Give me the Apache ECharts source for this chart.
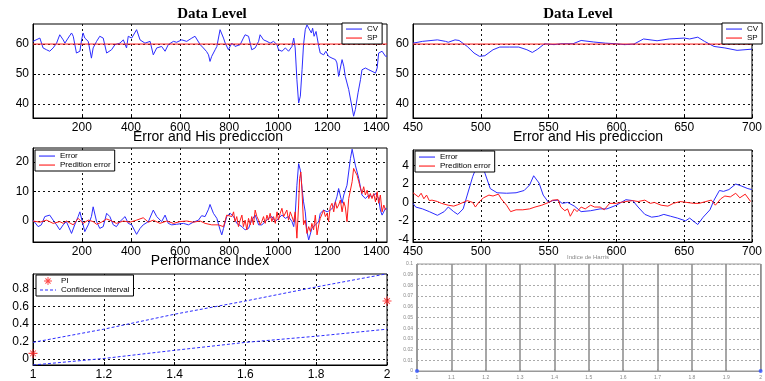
<!DOCTYPE html>
<html>
<head>
<meta charset="UTF-8">
<script src="https://cdn.jsdelivr.net/npm/echarts@6/dist/echarts.min.js"></script>
<title>Data Level</title>
<style>
  html, body { margin: 0; padding: 0; background: #fff; }
  #main { width: 765px; height: 381px; }
</style>
</head>
<body>
<div id="main"></div>
<script type="text/javascript">
// ---- top left: CV over the whole run (SP = 60)
var cvX1 = [1,29,42,56,69,83,97,110,124,131,144,158,165,178,192,199,205,212,226,239,246,260,273,280,287,301,321,335,355,369,382,389,403,423,437,457,478,491,505,525,539,552,573,586,607,627,648,661,682,695,
  708,716,722,729,743,750,763,770,777,784,797,804,811,824,831,845,858,865,879,892,906,920,926,940,954,967,981,995,1001,1015,1029,1042,1056,1063,1069,1076,1083,1090,1097,1103,1110,1117,1124,1135,1140,1146,1154,1165,1171,1185,1194,1205,1219,1233,1239,1246,1253,1260,1267,1273,1287,1301,1307,1314,1325,1335,1341,1355,1369,1382,1396,1403,1409,1423,1437,1443];
var cvY1 = [60.9,62,58.7,58.1,57.6,58.7,60.3,63.1,61.4,60.3,62,63.7,62.6,57,57.6,61.4,63.7,62,60.9,55.3,58.7,60.9,62.6,63.1,62,57,58.1,59.8,60.3,61.4,58.7,62.6,62,64.8,61.4,60.3,60.9,56.4,58.7,59.2,57.6,59.8,60.9,60.6,61.4,60.9,62,62.6,59.8,58.7,
  57.5,56.4,54.2,55.9,58.1,59.2,64.8,64.2,62,60.3,58.1,59.2,60.3,59.2,58.7,59.8,62,63.1,62.6,58.1,58.7,60.9,63.1,61.4,60.9,60.3,60.9,59.8,58.1,57.6,58.7,57.6,59.2,62,58.7,48.1,40.3,42.6,51.4,59.8,64.8,66.4,65.9,63.7,65.3,62.6,64.2,59.2,57,56.4,57.6,55.9,55.3,54.8,53.7,49.2,49.8,54.8,52.6,49.2,44.8,38.7,35.9,38.1,43.7,48.1,51.4,52,51.4,50.9,50.3,52,57,57.6,55.9,56];
var spX1 = [1, 1443];
var spY1 = [60, 60];

// ---- top right: CV between 450 and 700
var cvX2 = [450,457,468,474,476,481,484,490,495,499,503,509,514,521,528,534,538,542,547,554,559,568,574,583,592,600,606,613,620,630,639,650,654,660,665,672,680,689,700];
var cvY2 = [60.3,60.9,61.4,60.9,60.6,61.4,61.2,59.2,57,55.9,56.1,58.1,59,59,59,58.1,57.2,58.3,60.1,59.8,60.1,60.1,61.2,60.7,60.3,60.1,59.8,60,61.7,61.1,61.7,62,61.7,62.3,60.9,59.2,58.7,57.9,58.3];
var spX2 = [450, 700];
var spY2 = [60, 60];

// ---- middle left: error and predicted error
var errX1 = [1,22,35,49,69,83,97,110,124,137,158,171,185,192,205,212,226,239,246,260,273,287,301,314,328,341,355,376,389,403,423,437,450,471,491,505,525,539,552,566,586,614,634,654,675,688,
  702,716,722,736,750,763,770,777,790,804,818,831,852,865,879,892,906,920,933,947,960,974,988,1001,1015,1029,1042,1056,1063,1069,1076,1083,1090,1097,1103,1110,1117,1124,1131,1137,1151,1165,1171,1185,1199,1212,1226,1239,1246,1253,1260,1267,1280,1294,1301,1307,1314,1328,1341,1355,1369,1382,1396,1409,1416,1423,1437,1443];
var errY1 = [0.3,-1.9,-1.3,1.5,2,0.3,-1.3,-3,-1.3,-0.2,-4.2,-1.3,1.5,3.1,-1.3,-3.6,-1.3,1.5,4.8,-0.2,-2.5,-1.9,2.6,1.5,-1.3,-1.9,-0.2,1.5,-0.8,-1.3,-4.5,-2.5,-1.3,-0.2,3.7,1.5,-0.2,2,-0.8,-1.3,-1.1,-0.8,-1.3,-0.4,0.3,1.8,
  1.5,4,5.6,2.6,0.9,-3,-4.7,-2.5,1.5,2.6,1.5,-0.8,-1.9,-3,-2.5,0.3,2,-1.3,-1.3,-0.2,0.9,1.5,-0.2,0.9,2,0.9,1.5,-0.2,-1.9,2,12.1,19.4,17.2,11,6.5,3.1,-3.6,-6.4,-5.8,-2.5,-1.3,-0.2,2.6,3.7,3.1,3.7,4.8,8.2,11,10.4,6,8.8,12.1,21.1,24.3,23.9,18.9,14.4,8.8,7.6,8.8,8.2,9.3,7.6,3.7,2,4.3,4];
var predX1 = [1,29,56,83,110,124,137,165,185,192,205,226,246,260,280,301,321,341,369,396,423,450,471,491,518,546,573,600,627,654,682,
  702,729,756,777,790,797,811,818,824,831,838,845,852,858,865,872,879,886,892,899,906,913,920,926,933,940,947,954,960,967,974,981,988,995,1001,1008,1015,1022,1029,1035,1042,1049,1056,1063,1069,1076,1083,1087,1092,1097,1103,1110,1117,1124,1131,1137,1144,1151,1158,1165,1171,1178,1185,1192,1199,1205,1212,1219,1226,1233,1239,1246,1253,1260,1267,1273,1280,1287,1294,1301,1307,1314,1321,1328,1335,1341,1348,1355,1362,1369,1375,1382,1389,1396,1403,1409,1416,1423,1430,1437];
var predY1 = [0,-0.4,0.3,-0.8,-0.2,-0.8,0,-1.3,0.9,1.5,-0.8,0.3,-0.2,-1.1,-0.4,0.7,0,-0.8,0,-0.4,0.3,1.1,-0.4,0.3,-0.8,0,-0.8,-0.2,0,-0.4,0,
  -0.8,-1.3,-1.3,-1.9,2,2.6,1.5,3.1,-0.2,1.5,-1.9,0.3,2,-1.9,0.3,-3,0.9,-1.3,1.5,-1.3,3.7,1.5,0.3,-1.3,-0.2,1.5,-0.8,2,0.3,2.6,-0.2,1.5,-0.8,3.1,0.3,2.6,4.3,1.5,2,3.7,0.3,3.1,1.5,-0.2,3.1,-5.8,5.4,14.4,16.6,9.9,-1.3,0.3,-4.2,-1.9,-3.6,-0.8,-3,2,-4.7,-1.3,0.9,1.5,3.7,1.5,2.6,-0.2,4.8,6,3.1,6.5,4.3,5.4,7.1,3.1,6.5,4.8,-0.2,7.6,7.6,13.3,17.8,16.6,15.5,13.3,11,9.3,11.6,8.8,10.4,7.6,9.3,7.6,9.3,6.5,9.9,6,8.8,3.1,5.4,3.7];

// ---- middle right: error and predicted error, 450..700
var errX2 = [450,452,457,462,468,473,476,480,483,487,490,494,498,501,503,507,512,519,526,532,536,539,543,546,550,553,557,560,564,569,574,581,588,593,600,607,612,616,621,626,631,635,640,645,651,654,660,664,669,672,676,679,683,688,692,697,700];
var errY2 = [-0.1,-0.5,-0.7,-1,-1.4,-1,-0.5,-1,-1.3,-0.7,0.8,2.8,4.3,4.6,3.2,1.5,1.05,1,1.05,1.3,1.9,2.9,2.1,0.8,0,0.2,0.25,-0.1,0,-0.4,-1,-0.9,-0.7,-0.7,-0.3,0.3,0.2,-0.5,-1.3,-1.6,-1.5,-1.3,-1.5,-1.7,-2,-1.7,-2.4,-1.6,-0.8,0.25,1.3,1.2,1.4,2,1.8,1.5,1.4];
var predX2 = [450,454,456,458,460,462,464,468,471,476,480,483,487,490,494,496,499,502,506,509,513,515,519,522,526,531,536,540,545,550,553,557,559,562,564,566,569,571,574,577,581,584,588,591,595,600,603,607,612,616,621,625,628,633,638,642,647,652,657,661,666,670,673,677,680,684,688,691,695,699];
var predY2 = [1.05,0.6,1,0.4,0.8,0.2,0.25,0.1,-0.1,-0.3,-0.4,-0.25,0,0.2,0,-0.5,0.1,0.5,0.8,0.7,0.9,0.4,-0.3,-1,-0.8,-0.8,-0.7,-0.5,-0.3,0,0.25,0.3,-0.5,-0.9,-0.7,-1.5,-0.7,-1,-0.5,-0.7,-0.3,-0.5,-0.5,-0.8,-0.1,-0.1,0,0.1,0.2,0.1,0.25,-0.1,0,-0.3,-0.4,-0.1,0.1,0,-0.1,-0.1,0.1,0.25,-0.3,0.4,0.7,0.6,1,0.5,0.9,0.1];

// ---- bottom left: performance index
var piX = [1, 2];
var piY = [0.065, 0.66];
var ciX = [1, 1.2, 1.4, 1.6, 1.8, 2];
var ciUp = [0.19, 0.34, 0.51, 0.66, 0.82, 0.97];
var ciLow = [-0.067, 0.007, 0.1, 0.19, 0.26, 0.34];

// ---- bottom right: Harris index
var harrisX = [1, 2];
var harrisY = [0, 0];

// tick labels
var ticksLong = [200, 400, 600, 800, 1000, 1200, 1400];
var ticksLevel = [40, 50, 60];
var ticksErr1 = [0, 10, 20];
var ticksErr2 = [-4, -2, 0, 2, 4];
var ticksPiX = [1, 1.2, 1.4, 1.6, 1.8, 2];
var ticksPiY = [0, 0.2, 0.4, 0.6, 0.8];

function pts(xs, ys) {
  return xs.map(function (x, i) { return [x, ys[i]]; });
}

var BLUE = '#2c2cff', RED = '#ff1a1a';
var FONT = 'Liberation Sans, Arial, sans-serif';
// legend icons: thin solid bar, dashed bar (the M moves keep the box 16x8)
var ICON_LINE = 'path://M0 0M16 8M0 3.5h16v1.1h-16z';
var ICON_DASH = 'path://M0 0M16 8M0 3.5h3v1.1h-3zM5 3.5h3v1.1h-3zM10 3.5h3v1.1h-3zM15 3.5h1v1.1h-1z';
var ICON_STAR = 'path://M4.4 0h1.2v10h-1.2zM0 4.4h10v1.2h-10zM1.4 2.2l0.8-0.8l6.4 6.4l-0.8 0.8zM7.8 1.4l0.8 0.8l-6.4 6.4l-0.8-0.8z';

function grid(l, t, w, h) {
  return { left: l, top: t, width: w, height: h, show: true, borderColor: '#000', borderWidth: 1, backgroundColor: '#fff' };
}
function plain(v) { return String(v); }
function axis(gi, min, max, ticks, fontSize) {
  return {
    type: 'value', gridIndex: gi, min: min, max: max,
    axisLine: { show: true, onZero: false, lineStyle: { color: '#000' } },
    axisTick: { show: true, inside: true, length: 3, customValues: ticks, lineStyle: { color: '#000' } },
    axisLabel: { customValues: ticks, formatter: plain, color: '#000', fontSize: fontSize || 12, fontFamily: FONT, margin: 4 },
    splitLine: { show: true, lineStyle: { color: '#111', type: [2, 3], width: 1 } }
  };
}
function line(name, xi, data, color, extra) {
  var s = { name: name, type: 'line', xAxisIndex: xi, yAxisIndex: xi, data: data, showSymbol: false, symbol: 'none',
    lineStyle: { color: color, width: 1 }, itemStyle: { color: color }, silent: true, animation: false, clip: true };
  if (extra) for (var k in extra) s[k] = extra[k];
  return s;
}
function legend(l, t, items, fs) {
  return { left: l, top: t, orient: 'vertical', data: items, itemWidth: 16, itemHeight: 8, itemGap: 1,
    padding: [2, 4, 2, 4], borderColor: '#000', borderWidth: 1, backgroundColor: '#fff', borderRadius: 0,
    selectedMode: false, textStyle: { fontSize: fs, fontFamily: FONT, color: '#000' } };
}

var myChart = echarts.init(document.getElementById('main'), null, { renderer: 'canvas' });

var harrisX6 = axis(5, 1, 2, null, 5);
harrisX6.interval = 0.1;
harrisX6.axisLabel = { color: '#888', fontSize: 5, fontFamily: FONT, margin: 4 };
harrisX6.axisTick = { show: true, inside: true, length: 2, lineStyle: { color: '#999' } };
harrisX6.axisLine = { lineStyle: { color: '#999' } };
harrisX6.splitLine = { show: true, lineStyle: { color: '#8a8a8a', width: 1.5 } };
var harrisY6 = axis(5, 0, 0.1, null, 5);
harrisY6.interval = 0.01;
harrisY6.axisLabel = { color: '#888', fontSize: 5, fontFamily: FONT, margin: 4 };
harrisY6.axisTick = { show: false };
harrisY6.axisLine = { lineStyle: { color: '#999' } };
harrisY6.splitLine = { show: true, lineStyle: { color: '#aaa', type: [2, 2], width: 1 } };

var g6 = grid(417, 264, 344, 107);
g6.borderColor = '#999';

var cvItems = [{ name: 'CV', icon: ICON_LINE }, { name: 'SP', icon: ICON_LINE }];
var errItems = [{ name: 'Error', icon: ICON_LINE }, { name: 'Predition error', icon: ICON_LINE }];
var piItems = [{ name: 'PI', icon: ICON_STAR }, { name: 'Confidence interval', icon: ICON_DASH }];

var option = {
  backgroundColor: '#fff',
  animation: false,
  grid: [
    grid(33, 24, 354, 94),
    grid(413, 24, 352, 94),
    grid(33, 148, 354, 94),
    grid(413, 150, 352, 92),
    grid(33, 274, 354, 93),
    g6
  ],
  xAxis: [
    axis(0, 1, 1443, ticksLong),
    axis(1, 450, 700, [450, 500, 550, 600, 650, 700]),
    axis(2, 1, 1443, ticksLong),
    axis(3, 450, 700, [450, 500, 550, 600, 650, 700]),
    axis(4, 1, 2, ticksPiX),
    harrisX6
  ],
  yAxis: [
    axis(0, 35.3, 66.7, ticksLevel),
    axis(1, 35.3, 66.7, ticksLevel),
    axis(2, -7.1, 24.7, ticksErr1),
    axis(3, -4.3, 5.7, ticksErr2),
    axis(4, -0.067, 0.967, ticksPiY),
    harrisY6
  ],
  legend: [
    legend(342, 23, cvItems, 8),
    legend(722, 23, cvItems, 8),
    legend(35, 150, errItems, 8),
    legend(415, 151, errItems, 8),
    legend(36, 275, piItems, 8)
  ],
  series: [
    line('CV', 0, pts(cvX1, cvY1), BLUE),
    line('SP', 0, pts(spX1, spY1), RED),
    line('CV', 1, pts(cvX2, cvY2), BLUE),
    line('SP', 1, pts(spX2, spY2), RED),
    line('Error', 2, pts(errX1, errY1), BLUE),
    line('Predition error', 2, pts(predX1, predY1), RED),
    line('Error', 3, pts(errX2, errY2), BLUE),
    line('Predition error', 3, pts(predX2, predY2), RED),
    line('Confidence interval', 4, pts(ciX, ciUp), BLUE, { lineStyle: { color: BLUE, width: 1, type: [3, 2] } }),
    line('Confidence interval', 4, pts(ciX, ciLow), BLUE, { lineStyle: { color: BLUE, width: 1, type: [3, 2] } }),
    {
      name: 'PI', type: 'scatter', xAxisIndex: 4, yAxisIndex: 4, data: pts(piX, piY), clip: false,
      symbol: ICON_STAR, symbolSize: 9,
      itemStyle: { color: RED }, silent: true
    },
    {
      name: 'Harris', type: 'scatter', xAxisIndex: 5, yAxisIndex: 5, data: pts(harrisX, harrisY), clip: false,
      symbol: 'circle', symbolSize: 4, itemStyle: { color: '#3050ff' }, silent: true
    }
  ],
  graphic: [
    { type: 'text', x: 212, y: 14, style: { text: 'Data Level', font: 'bold 15px "Liberation Serif", "DejaVu Serif", serif', fill: '#000', align: 'center', verticalAlign: 'middle' } },
    { type: 'text', x: 578, y: 14, style: { text: 'Data Level', font: 'bold 15px "Liberation Serif", "DejaVu Serif", serif', fill: '#000', align: 'center', verticalAlign: 'middle' } },
    { type: 'text', x: 208, y: 137, style: { text: 'Error and His prediccion', font: '14px ' + FONT, fill: '#000', align: 'center', verticalAlign: 'middle' } },
    { type: 'text', x: 588, y: 137, style: { text: 'Error and His prediccion', font: '14px ' + FONT, fill: '#000', align: 'center', verticalAlign: 'middle' } },
    { type: 'text', x: 210, y: 261, style: { text: 'Performance Index', font: '14px ' + FONT, fill: '#000', align: 'center', verticalAlign: 'middle' } },
    { type: 'text', x: 588, y: 257, style: { text: 'Indice de Harris', font: '6px ' + FONT, fill: '#888', align: 'center', verticalAlign: 'middle' } }
  ]
};

myChart.setOption(option);
</script>
</body>
</html>
